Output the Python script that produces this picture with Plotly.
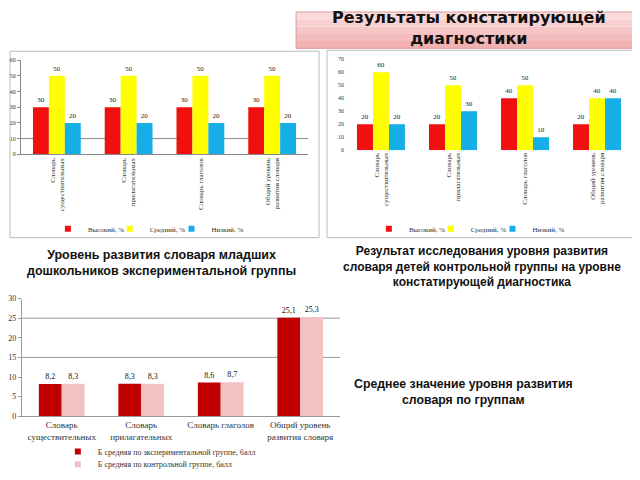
import plotly.graph_objects as go

# ---- data ----
categories = ["Словарь<br>существительных", "Словарь<br>прилагательных",
              "Словарь глаголов", "Общий уровень<br>развития словаря"]
level_names = ["Высокий, %", "Средний, %", "Низкий, %"]

exp_high = [30, 30, 30, 30]
exp_mid = [50, 50, 50, 50]
exp_low = [20, 20, 20, 20]

ctl_high = [20, 20, 40, 20]
ctl_mid = [60, 50, 50, 40]
ctl_low = [20, 30, 10, 40]

avg_names = ["Б средняя по экспериментальной группе, балл",
             "Б средняя по контрольной группе, балл"]
avg_exp = [8.2, 8.3, 8.6, 25.1]
avg_ctl = [8.3, 8.3, 8.7, 25.3]

title_text = "Результаты констатирующей<br>диагностики"
caption1 = "Уровень развития словаря младших<br>дошкольников экспериментальной группы"
caption2 = ("Результат исследования уровня развития<br>словаря детей контрольной группы на уровне"
            "<br>констатирующей диагностика")
caption3 = "Среднее значение уровня развития<br>словаря по группам"

# ---- style ----
W, H = 640, 480
OFF = 8  # page body margin of the browser
SERIF = "Liberation Serif"
level_colors = ["#F01010", "#FFFF00", "#16AEE6"]
avg_colors = ["#C00000", "#F2C2C2"]


def px(x):
    return max(0.0, (x - OFF) / W)


def py(y):
    return min(1.0, 1 - (y - OFF) / H)


fig = go.Figure()
legend_defs = {}

bw = 0.222
offs = [-0.333, -0.111, 0.111]


def add_level_chart(vals_list, xa, ya, leg_ids, leg_xs):
    for name, vals, col, off, lid, lx in zip(level_names, vals_list, level_colors, offs,
                                             leg_ids, leg_xs):
        fig.add_trace(go.Bar(x=categories, y=vals, name=name, showlegend=False,
                             marker=dict(color=col, line=dict(width=0)),
                             width=bw, offset=off, xaxis=xa, yaxis=ya,
                             texttemplate="%{y}", textposition="outside",
                             textfont=dict(family=SERIF, size=7, color="#222"), cliponaxis=False))
        fig.add_trace(go.Scatter(x=[None], y=[None], mode="markers", name=name, legend=lid,
                                 marker=dict(symbol="square", size=6, color=col),
                                 xaxis=xa, yaxis=ya, hoverinfo="skip"))
        legend_defs[lid] = dict(x=px(lx), y=py(229), xanchor="left", yanchor="middle",
                                font=dict(family=SERIF, size=7, color="#333"),
                                bgcolor="rgba(0,0,0,0)")


add_level_chart([exp_high, exp_mid, exp_low], "x", "y",
                ["legend", "legend2", "legend3"], [46, 108, 170])
add_level_chart([ctl_high, ctl_mid, ctl_low], "x2", "y2",
                ["legend4", "legend5", "legend6"], [368, 430, 492])

bw3 = 0.2875
for name, vals, col, off, lid, ly in zip(avg_names, [avg_exp, avg_ctl], avg_colors, [-bw3, 0],
                                         ["legend7", "legend8"], [456, 469]):
    fig.add_trace(go.Bar(x=categories, y=vals, name=name, showlegend=False,
                         marker=dict(color=col, line=dict(width=0)),
                         width=bw3, offset=off, xaxis="x3", yaxis="y3",
                         texttemplate="%{y:.1f}", textposition="outside",
                         textfont=dict(family=SERIF, size=8, color="#111"), cliponaxis=False))
    fig.add_trace(go.Scatter(x=[None], y=[None], mode="markers", name=name, legend=lid,
                             marker=dict(symbol="square", size=6, color=col),
                             xaxis="x3", yaxis="y3", hoverinfo="skip"))
    legend_defs[lid] = dict(x=px(56), y=py(ly), xanchor="left", yanchor="middle",
                            font=dict(family=SERIF, size=8, color="#333"),
                            bgcolor="rgba(0,0,0,0)")

tickfont_small = dict(family=SERIF, size=6, color="#333")

fig.update_layout(
    width=W, height=H, margin=dict(l=0, r=0, t=0, b=0),
    paper_bgcolor="white", plot_bgcolor="white",
    barmode="overlay", separators=", ", showlegend=True,
    xaxis=dict(domain=[px(19), px(307)], anchor="y", type="category", range=[-0.5, 3.5],
               tickangle=-90, tickfont=dict(family=SERIF, size=7, color="#333"),
               showline=True, linecolor="#888", linewidth=1, ticks="", showgrid=False),
    yaxis=dict(domain=[py(153), py(57)], anchor="x", range=[0, 60], dtick=10,
               tickfont=tickfont_small, showline=True, linecolor="#888", linewidth=1,
               ticks="outside", ticklen=3, tickcolor="#888", showgrid=False, zeroline=False),
    xaxis2=dict(domain=[px(344), px(633)], anchor="y2", type="category", range=[-0.5, 3.5],
                tickangle=-90, tickfont=dict(family=SERIF, size=7, color="#333"),
                showline=False, ticks="", showgrid=False),
    yaxis2=dict(domain=[py(149), py(56)], anchor="x2", range=[0, 70], dtick=10,
                tickfont=tickfont_small, showline=False, showgrid=False, zeroline=False),
    xaxis3=dict(domain=[px(20), px(339)], anchor="y3", type="category", range=[-0.5, 3.5],
                tickangle=0, tickfont=dict(family=SERIF, size=9, color="#333"),
                showline=True, linecolor="#999", linewidth=1, ticks="", showgrid=False),
    yaxis3=dict(domain=[py(420), py(300)], anchor="x3", range=[0, 30], dtick=5,
                tickfont=dict(family=SERIF, size=8, color="#333"), showline=True,
                linecolor="#999", linewidth=1, ticks="outside", ticklen=3, tickcolor="#999",
                showgrid=False, zeroline=False),
)
fig.update_layout(**legend_defs)

shapes = []
grad = ["#FCE4E4", "#FADADA", "#F8D0D0", "#F6C6C6", "#F4BCBC", "#F2B2B2"]
x0, x1, y0, y1 = 295, 638, 1, 45
step = (y1 - y0) / len(grad)
for i, c in enumerate(grad):
    shapes.append(dict(type="rect", xref="paper", yref="paper", x0=px(x0), x1=px(x1),
                       y0=py(y0 + (i + 1) * step), y1=py(y0 + i * step),
                       fillcolor=c, line=dict(width=0), layer="below"))
shapes.append(dict(type="rect", xref="paper", yref="paper", x0=px(x0), x1=px(x1),
                   y0=py(y1), y1=py(y0), line=dict(color="#D99A9A", width=1),
                   fillcolor="rgba(0,0,0,0)"))
shapes.append(dict(type="rect", xref="paper", yref="paper", x0=px(2), x1=px(318),
                   y0=py(238), y1=py(48), line=dict(color="#BBBBBB", width=1), layer="below"))
shapes.append(dict(type="rect", xref="paper", yref="paper", x0=px(326), x1=px(638),
                   y0=py(238), y1=py(47), line=dict(color="#BBBBBB", width=1), layer="below"))
shapes.append(dict(type="line", xref="x domain", yref="y", x0=0, x1=1, y0=10, y1=10,
                   line=dict(color="#888", width=1), layer="below"))
for g in (15, 25):
    shapes.append(dict(type="line", xref="x3 domain", yref="y3", x0=0, x1=1, y0=g, y1=g,
                       line=dict(color="#999", width=1), layer="below"))
fig.update_layout(shapes=shapes)

annotations = [
    dict(text=title_text, x=px(468), y=py(24), font=dict(family="DejaVu Sans", size=16, color="#111")),
    dict(text=caption1, x=px(160), y=py(264), font=dict(family="Liberation Sans", size=12.5, color="#111")),
    dict(text=caption2, x=px(481), y=py(267), font=dict(family="Liberation Sans", size=12, color="#111")),
    dict(text=caption3, x=px(463), y=py(395), font=dict(family="Liberation Sans", size=12.3, color="#111")),
]
for a in annotations:
    a.update(xref="paper", yref="paper", showarrow=False, xanchor="center", yanchor="middle",
             align="center")
    a["text"] = "<b>" + a["text"].replace("<br>", "</b><br><b>") + "</b>"
fig.update_layout(annotations=annotations)

fig.write_html("out.html")
